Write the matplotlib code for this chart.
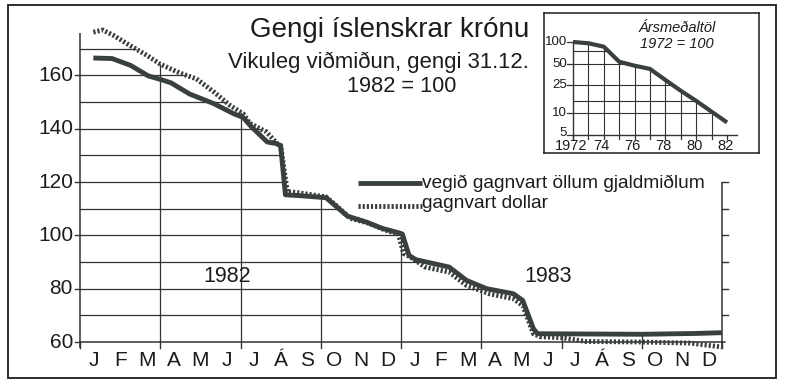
import numpy as np
import matplotlib
matplotlib.use("Agg")
import matplotlib.pyplot as plt
from matplotlib.patches import Polygon, Rectangle

plt.rcParams['font.family'] = ['Liberation Sans', 'DejaVu Sans']

# ---------------------------------------------------------------------------
# Data: weekly exchange-rate index of the króna, 31.12.1982 = 100
# x = months counted from 1 January 1982
# ---------------------------------------------------------------------------
all_months = [0.5, 1.2, 1.9, 2.55, 3.0, 3.4, 4.1, 5.0, 5.75, 6.1, 6.4, 7.0,
              7.35, 7.5, 7.68, 8.2, 9.2, 9.5, 10.0, 10.7, 11.3, 11.9, 12.05,
              12.3, 12.55, 13.8, 14.45, 15.2, 16.2, 16.55, 16.95, 17.1, 19.0,
              21.0, 23.0, 24.0]
all_values = [166.5, 166.3, 163.7, 159.8, 158.5, 157.2, 153.0, 149.4, 145.6,
              144.2, 140.8, 135.0, 134.4, 133.5, 115.2, 114.9, 114.1, 111.5,
              107.2, 105.0, 102.6, 101.0, 100.5, 92.5, 90.9, 88.1, 83.1, 80.0,
              78.1, 75.6, 65.0, 63.1, 63.0, 62.9, 63.2, 63.5]

usd_months = [0.5, 0.85, 1.25, 1.9, 2.5, 3.0, 3.75, 4.35, 5.0, 5.6, 6.1, 6.35,
              6.73, 6.97, 7.35, 7.5, 7.75, 8.1, 9.2, 9.6, 10.1, 10.8, 11.4,
              11.9, 12.1, 12.35, 12.9, 13.8, 14.45, 15.3, 16.2, 16.55, 16.95,
              17.2, 18.0, 18.9, 21.0, 22.8, 24.0]
usd_values = [176.2, 177.0, 175.0, 171.0, 167.5, 164.2, 160.8, 158.7, 153.8,
              148.8, 145.6, 142.0, 140.0, 138.8, 134.6, 133.8, 116.3, 116.1,
              114.4, 111.0, 106.4, 104.5, 102.0, 100.4, 93.2, 91.9, 88.1, 86.2,
              81.2, 78.1, 76.2, 73.7, 63.1, 62.0, 61.6, 60.2, 60.0, 59.6, 58.1]

month_labels = list("JFMAMJJÁSOND") * 2
y_ticks = [60, 80, 100, 120, 140, 160]
grid_levels = list(range(70, 180, 10))
quarter_ticks = list(range(0, 25, 3))
right_ticks = [70, 80, 90, 100, 110, 120]
year_labels = [(5.5, "1982"), (17.5, "1983")]

title_lines = ["Gengi íslenskrar krónu",
               "Vikuleg viðmiðun, gengi 31.12.",
               "1982 = 100"]
legend_labels = ["vegið gagnvart öllum gjaldmiðlum", "gagnvart dollar"]

# Annual averages, 1972 = 100 (log scale)
inset_years = list(range(1972, 1983))
inset_values = [100, 96, 86, 53, 46.6, 42, 29.4, 20.8, 15, 10.6, 7.5]
inset_ticks = [5, 10, 25, 50, 100]
inset_grid = [10, 15, 25, 50, 75]
inset_xticks = [1972, 1974, 1976, 1978, 1980, 1982]
inset_xticklabels = ["1972", "74", "76", "78", "80", "82"]
inset_title = ["Ársmeðaltöl", "1972 = 100"]

# ---------------------------------------------------------------------------
W, H = 785, 380
INK = "#1c1c1c"
LINE = "#3a413c"
GRID = "#333333"

fig = plt.figure(figsize=(W / 100, H / 100), dpi=100)
fig.patch.set_facecolor("white")

# main axes covers the whole canvas; limits chosen so the plot frame sits
# at x = 80..722 px and 60 -> 342 px, 160 -> 75 px
X0, MPX = 80.0, 26.75
Y60, UPX = 342.0, 53.33 / 20.0
ax = fig.add_axes([0, 0, 1, 1])
ax.set_xlim(-X0 / MPX, (W - X0) / MPX)
ax.set_ylim(60 - (H - Y60) / UPX, 60 + Y60 / UPX)
ax.axis("off")


def to_data(px, py):
    return (px - X0) / MPX, 60 + (Y60 - py) / UPX


# outer frame
fig.add_artist(Rectangle((8 / W, 1 - 378 / H), 768 / W, 373 / H,
                         transform=fig.transFigure, fill=False,
                         lw=1.3, ec=INK))

# grid only in the area under the curves
mm = np.linspace(0, 24, 1200)
env = np.maximum(np.interp(mm, all_months, all_values),
                 np.interp(mm, usd_months, usd_values))
clip = Polygon(np.column_stack([np.r_[0, mm, 24], np.r_[60, env, 60]]),
               closed=True, facecolor="none", edgecolor="none",
               transform=ax.transData)
ax.add_patch(clip)

for v in grid_levels:
    ln, = ax.plot([0, 24], [v, v], color=GRID, lw=0.9, zorder=1)
    ln.set_clip_path(clip)
for m in quarter_ticks[1:-1]:
    ln, = ax.plot([m, m], [60, 180], color=GRID, lw=0.9, zorder=1)
    ln.set_clip_path(clip)

# axes lines
tick_down = 6 / UPX
ax.plot([0, 0], [60 - tick_down, 60 + (Y60 - 33) / UPX], color=GRID, lw=1.1,
        solid_capstyle="butt")
ax.plot([0, 24 + 3 / MPX], [60, 60], color=GRID, lw=1.1)
ax.plot([24, 24], [60 - tick_down, 120], color=GRID, lw=1.1,
        solid_capstyle="butt")
for m in quarter_ticks:
    ax.plot([m, m], [60 - tick_down, 60], color=GRID, lw=1.0)
for v in right_ticks:
    ax.plot([24, 24 + 6 / MPX], [v, v], color=GRID, lw=1.0)
for v in y_ticks:
    ax.plot([-5 / MPX, 0], [v, v], color=GRID, lw=1.0)
    ax.text(-7 / MPX, v, str(v), ha="right", va="center", fontsize=15,
            color=INK)

for i, lab in enumerate(month_labels):
    ax.text(i + 0.5, to_data(0, 361)[1], lab, ha="center", va="center",
            fontsize=15, color=INK)

for m, lab in year_labels:
    ax.text(m, to_data(0, 276)[1], lab, ha="center", va="center",
            fontsize=15.5, color=INK)

# curves
ax.plot(all_months, all_values, color=LINE, lw=3.5, zorder=4,
        solid_joinstyle="round", solid_capstyle="butt")
ax.plot(usd_months, usd_values, color=LINE, lw=3.5, zorder=3,
        linestyle=(0, (0.45, 0.4)), dash_capstyle="butt", clip_on=False)

# legend
lx0, ly0 = to_data(358, 183)
lx1, _ = to_data(422, 183)
ax.plot([lx0, lx1], [ly0, ly0], color=LINE, lw=3.5, solid_capstyle="butt")
ax.text(lx1, ly0, legend_labels[0], ha="left", va="center", fontsize=13.8,
        color=INK)
_, ly1 = to_data(358, 206)
ax.plot([lx0, lx1], [ly1, ly1], color=LINE, lw=3.5,
        linestyle=(0, (0.45, 0.4)), dash_capstyle="butt")
ax.text(lx1, to_data(0, 203)[1], legend_labels[1], ha="left", va="center",
        fontsize=13.8, color=INK)

# title block
fig.text(250 / W, 1 - 37 / H, title_lines[0], ha="left", va="baseline",
         fontsize=20, color=INK)
fig.text(228 / W, 1 - 68 / H, title_lines[1], ha="left", va="baseline",
         fontsize=15.9, color=INK)
fig.text(347 / W, 1 - 92 / H, title_lines[2], ha="left", va="baseline",
         fontsize=15.7, color=INK)

# ---------------------------------------------------------------------------
# inset: annual averages on a log scale
# box 544..759 px wide, 13..152 px tall; 1972 at 573 px, 1982 at 727 px;
# 100 at 42 px, 5 at 135 px
# ---------------------------------------------------------------------------
BX0, BX1, BY0, BY1 = 544, 759, 13, 153
YPX = 15.4
DEC = 71.5
axi = fig.add_axes([BX0 / W, 1 - BY1 / H, (BX1 - BX0) / W, (BY1 - BY0) / H])
axi.set_yscale("log")
axi.set_xlim(1972 - (573 - BX0) / YPX, 1982 + (BX1 - 727) / YPX)
axi.set_ylim(10 ** (2 - (BY1 - 42) / DEC), 10 ** (2 + (42 - BY0) / DEC))
axi.set_xticks([])
axi.set_yticks([])
axi.minorticks_off()
for s in axi.spines.values():
    s.set_color(INK)
    s.set_linewidth(1.1)
axi.set_facecolor("white")

yy = np.linspace(1972, 1982, 600)
iv = 10 ** np.interp(yy, inset_years, np.log10(inset_values))
iclip = Polygon(np.column_stack([np.r_[1972, yy, 1982], np.r_[5, iv, 5]]),
                closed=True, facecolor="none", edgecolor="none",
                transform=axi.transData)
axi.add_patch(iclip)

for v in inset_grid:
    ln, = axi.plot([1972, 1982], [v, v], color=GRID, lw=0.8)
    ln.set_clip_path(iclip)
for y in inset_years[1:]:
    ln, = axi.plot([y, y], [5, 200], color=GRID, lw=0.8)
    ln.set_clip_path(iclip)

tick_lo = 10 ** (np.log10(5) - 4 / DEC)
axi.plot([1972, 1972], [tick_lo, 100], color=GRID, lw=1.0)
axi.plot([1972, 1982 + 10 / YPX], [5, 5], color=GRID, lw=1.0)
for y in inset_years:
    axi.plot([y, y], [tick_lo, 5], color=GRID, lw=0.9)


def ipx(py):
    """pixel row inside the inset -> log-scale value"""
    return 10 ** (2 - (py - 42) / DEC)


for v in inset_ticks:
    axi.plot([1972 - 6 / YPX, 1972], [v, v], color=GRID, lw=0.9)
    ly = ipx(132.5) if v == 5 else v
    axi.text(1972 - 6 / YPX, ly, str(v), ha="right", va="center",
             fontsize=9.5, color=INK)

for y, lab in zip(inset_xticks, inset_xticklabels):
    axi.text(y - 2 / YPX, ipx(146.5), lab, ha="center", va="center",
             fontsize=10.5, color=INK)

axi.plot(inset_years, inset_values, color=LINE, lw=3.0,
         solid_joinstyle="round", solid_capstyle="butt")

tx = 1972 + (677 - 573) / YPX
axi.text(tx, ipx(28), inset_title[0], ha="center", va="center",
         fontsize=10.5, style="italic", color=INK)
axi.text(tx, ipx(44), inset_title[1], ha="center", va="center",
         fontsize=10.5, style="italic", color=INK)

fig.savefig("out.png", dpi=100, facecolor="white")
